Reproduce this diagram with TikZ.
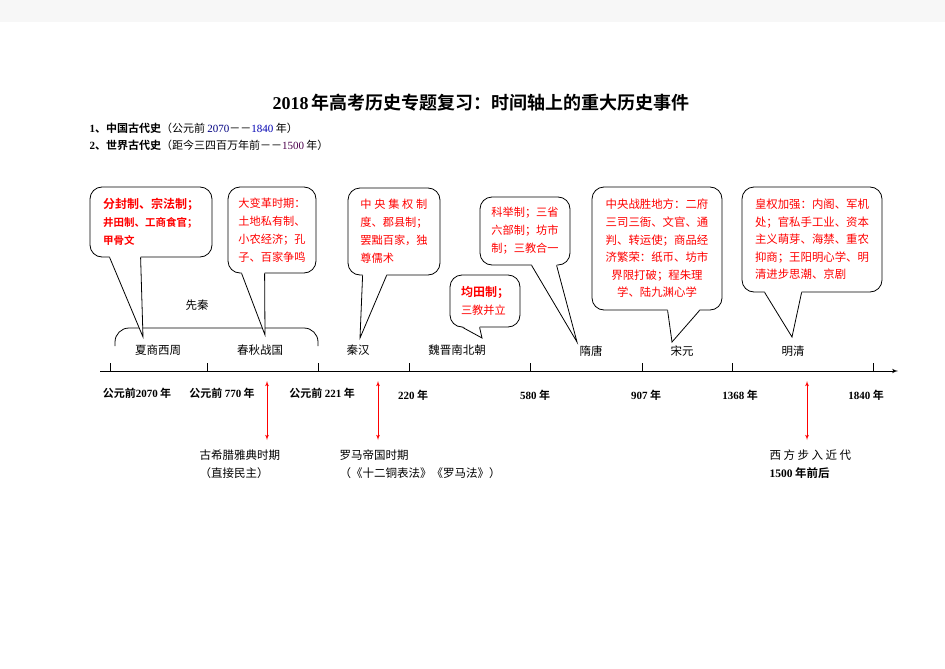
\documentclass[tikz,border=0pt]{standalone}
\usepackage{fontspec}
\setmainfont{Noto Sans CJK SC}[BoldFont={Noto Sans CJK SC Bold}]
\newfontfamily\tnr{Liberation Serif}
\newcommand\nb[1]{{\tnr\bfseries #1}}
\usetikzlibrary{positioning}
\usetikzlibrary{shapes, arrows, calc}

\begin{document}
\begin{tikzpicture}[x=1pt, y=-1pt]
    \tikzstyle{bubble} = [draw, fill=white, rounded corners=12pt, text=red, line width=0.8pt,
    inner sep=0pt, font=\fontsize{11.2}{18}\selectfont]
    \tikzstyle{period} = [font=\fontsize{11.5}{14}\selectfont]
    \tikzstyle{date} = [font=\fontsize{11}{14}\selectfont\bfseries]
    \tikzstyle{event} = [font=\fontsize{11.5}{18}\selectfont, align=left, anchor=west]
    \tikzstyle{line} = [draw, red, line width=0.8pt, latex'-latex']
    \tikzstyle{tail} = [draw, line width=0.8pt]
    \useasboundingbox (0,0) rectangle (945,669);
    \fill[gray!6] (0,0) rectangle (945,22);
    % heading
    \node [font=\fontsize{18}{20}\selectfont\bfseries] (title) at (481,103)
    {\nb{2018}\,年高考历史专题复习：时间轴上的重大历史事件};
    \node [anchor=west, font=\fontsize{11}{14}\selectfont] (china) at (86,128)
    {\nb{1}\textbf{、中国古代史}（公元前 {\tnr\color{blue!50!black}2070}－－{\tnr\color{blue!70!black}1840} 年）};
    \node [anchor=west, font=\fontsize{11}{14}\selectfont] (world) at (86,145)
    {\nb{2}\textbf{、世界古代史}（距今三四百万年前－－{\tnr\color{violet!60!black}1500} 年）};
    % time axis
    \coordinate (start) at (100,371);
    \coordinate (end) at (898,371);
    \draw [line width=1pt, -latex'] (start) -- (end);
    \foreach \x in {110,207,318,409,530,642,732,873}
        \draw [line width=0.8pt] (\x,371) -- (\x,363);
    \node [date] (d1) at (137,393) {公元前\nb{2070} 年};
    \node [date] (d2) at (222,393) {公元前 \nb{770} 年};
    \node [date] (d3) at (322,393) {公元前 \nb{221} 年};
    \node [date] (d4) at (413,395) {\nb{220} 年};
    \node [date] (d5) at (535,395) {\nb{580} 年};
    \node [date] (d6) at (646,395) {\nb{907} 年};
    \node [date] (d7) at (740,395) {\nb{1368} 年};
    \node [date] (d8) at (866,395) {\nb{1840} 年};
    % periods
    \node [period] (p1) at (158,350) {夏商西周};
    \node [period] (p2) at (260,350) {春秋战国};
    \node [period] (p3) at (358,350) {秦汉};
    \node [period] (p4) at (457,350) {魏晋南北朝};
    \node [period] (p5) at (591,351) {隋唐};
    \node [period] (p6) at (682,351) {宋元};
    \node [period] (p7) at (793,351) {明清};
    \node [period] (xianqin) at (197,305) {先秦};
    \draw [line width=0.8pt, rounded corners=14pt] (115,346) |- (217,328) -| (318,346);
    % callouts
    \node [bubble, minimum width=122pt, minimum height=70pt, align=left] (b1) at (151,222)
    {{\fontsize{12}{16.5}\selectfont\bfseries 分封制、宗法制；}\\
     {\fontsize{10.5}{16.5}\selectfont\bfseries 井田制、工商食官；}\\
     {\fontsize{10.5}{16.5}\selectfont\bfseries 甲骨文}};
    \node [bubble, minimum width=88pt, minimum height=86pt, align=left] (b2) at (272,230)
    {大变革时期：\\土地私有制、\\小农经济；孔\\子、百家争鸣};
    \node [bubble, minimum width=92pt, minimum height=87pt, align=left] (b3) at (394,231.5)
    {\makebox[67pt][s]{中\hfil 央\hfil 集\hfil 权\hfil 制}\\度、郡县制；\\罢黜百家，独\\尊儒术};
    \node [bubble, minimum width=90pt, minimum height=68pt, align=left] (b4) at (525,231)
    {科举制；三省\\六部制；坊市\\制；三教合一};
    \node [bubble, minimum width=70pt, minimum height=52pt, align=left] (b5) at (485,301)
    {{\fontsize{12}{16}\selectfont\bfseries 均田制；}\\三教并立};
    \node [bubble, minimum width=130pt, minimum height=123pt, align=center,
    font=\fontsize{11.4}{17.6}\selectfont] (b6) at (657,248.5)
    {中央战胜地方：二府\\三司三衙、文官、通\\判、转运使；商品经\\济繁荣：纸币、坊市\\界限打破；程朱理\\学、陆九渊心学};
    \node [bubble, minimum width=140pt, minimum height=105pt, align=left,
    font=\fontsize{11.4}{17.5}\selectfont] (b7) at (812,239.5)
    {皇权加强：内阁、军机\\处；官私手工业、资本\\主义萌芽、海禁、重农\\抑商；王阳明心学、明\\清进步思潮、京剧};
    % callout tails
    \coordinate (t1) at (143,337);
    \coordinate (t2) at (265,335);
    \coordinate (t3) at (360,338);
    \coordinate (t4) at (577,342);
    \coordinate (t5) at (482,338);
    \coordinate (t6) at (672,342);
    \coordinate (t7) at (792,337);
    \foreach \b/\l/\r/\t in {b1/20/51/t1, b2/14/37/t2, b3/15/39/t3, b4/52/77/t4,
                             b5/13/30/t5, b6/76/108/t6, b7/23/60/t7} {
        \fill [white] ($(\b.south west)+(\l,-1.2)$) -- (\t) -- ($(\b.south west)+(\r,-1.2)$) -- cycle;
        \draw [tail] ($(\b.south west)+(\l,0)$) -- (\t) -- ($(\b.south west)+(\r,0)$);
    }
    % world history
    \node [event] (greece) at (196,464) {古希腊雅典时期\\（直接民主）};
    \node [event] (rome) at (336,464) {罗马帝国时期\\（《十二铜表法》《罗马法》）};
    \node [event] (modern) at (766,464)
    {西\hspace{2.5pt}方\hspace{2.5pt}步\hspace{2.5pt}入\hspace{2.5pt}近\hspace{2.5pt}代\\\nb{1500} \textbf{年前后}};
    \coordinate (r1a) at (267,381);
    \coordinate (r1b) at (267,440);
    \coordinate (r2a) at (378,381);
    \coordinate (r2b) at (378,440);
    \coordinate (r3a) at (807,381);
    \coordinate (r3b) at (807,440);
    \path [line] (r1a) -- (r1b);
    \path [line] (r2a) -- (r2b);
    \path [line] (r3a) -- (r3b);
\end{tikzpicture}
\end{document}
